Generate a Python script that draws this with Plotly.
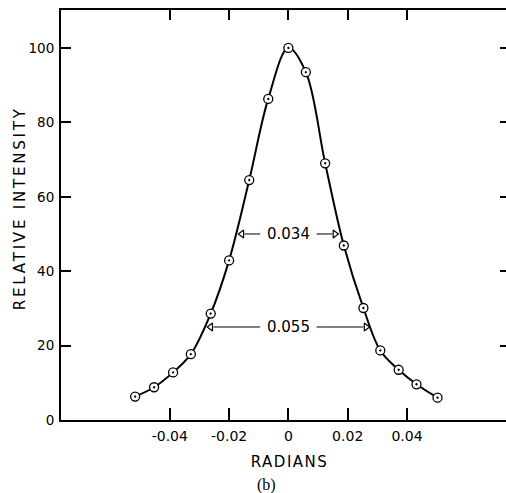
import plotly.graph_objects as go

# ---- data ----
radians = [-0.0517, -0.0453, -0.0389, -0.0329, -0.0262, -0.0200, -0.0132, -0.0068,
           0.0000, 0.0059, 0.0124, 0.0187, 0.0253, 0.0310, 0.0372, 0.0432, 0.0503]
intensity = [6.3, 8.8, 12.8, 17.7, 28.6, 42.9, 64.5, 86.3,
             100.0, 93.5, 69.0, 46.9, 30.1, 18.7, 13.5, 9.6, 6.0]

x_tickvals = [-0.04, -0.02, 0, 0.02, 0.04]
x_ticktext = ["-0.04", "-0.02", "0", "0.02", "0.04"]
y_tickvals = [0, 20, 40, 60, 80, 100]
y_ticktext = ["0", "20", "40", "60", "80", "100"]

# width markers: (full width, level, label)
widths = [0.034, 0.055]
levels = [50, 25]
width_labels = ["0.034", "0.055"]

XR = [-0.0767, 0.0734]
YR = [0, 110.2]
FONT = "DejaVu Sans"

fig = go.Figure()

# curve + points
fig.add_trace(go.Scatter(
    x=radians, y=intensity, mode="lines",
    line=dict(color="black", width=2, shape="spline", smoothing=1.0),
    hoverinfo="skip", showlegend=False))
fig.add_trace(go.Scatter(
    x=radians, y=intensity, mode="markers",
    marker=dict(symbol="circle-dot", size=9, color="white",
                line=dict(color="black", width=1.3)),
    hoverinfo="skip", showlegend=False))

# width arrows
gap = 0.0095
tip_off = 0.0022
for w, lvl, lab in zip(widths, levels, width_labels):
    half = w / 2
    for sgn in (-1, 1):
        fig.add_trace(go.Scatter(
            x=[sgn * gap, sgn * (half - tip_off)], y=[lvl, lvl], mode="lines",
            line=dict(color="black", width=1), hoverinfo="skip", showlegend=False))
        fig.add_trace(go.Scatter(
            x=[sgn * (half - 0.0013)], y=[lvl], mode="markers",
            marker=dict(symbol="triangle-right-open" if sgn > 0 else "triangle-left-open",
                        size=7, color="black", line=dict(color="black", width=1.2)),
            hoverinfo="skip", showlegend=False))
    fig.add_annotation(x=0, y=lvl, xref="x", yref="y", text=lab, showarrow=False,
                       font=dict(family=FONT, size=15, color="black"),
                       xanchor="center", yanchor="middle")

# invisible trace for overlay axes (top / right ticks)
fig.add_trace(go.Scatter(x=radians, y=intensity, xaxis="x2", yaxis="y2",
                         mode="markers", marker=dict(opacity=0), hoverinfo="skip",
                         showlegend=False))

axis_common = dict(showgrid=False, zeroline=False, ticks="inside",
                   tickcolor="black", tickwidth=1.5)

fig.update_layout(
    width=506, height=493,
    margin=dict(l=61, r=0, t=10, b=73),
    paper_bgcolor="white", plot_bgcolor="white",
    xaxis=dict(range=XR, tickvals=x_tickvals, ticktext=x_ticktext, ticklen=12,
               showline=True, linecolor="black", linewidth=2,
               tickfont=dict(family=FONT, size=14, color="black"),
               ticklabelstandoff=2, **axis_common),
    yaxis=dict(range=YR, tickvals=y_tickvals, ticktext=y_ticktext, ticklen=10,
               showline=True, linecolor="black", linewidth=2,
               tickfont=dict(family=FONT, size=13.5, color="black"),
               ticklabelstandoff=2, **axis_common),
    xaxis2=dict(range=XR, overlaying="x", side="top", anchor="y2", tickvals=x_tickvals,
                ticklen=10, showticklabels=False, showline=True, linecolor="black",
                linewidth=2, **axis_common),
    yaxis2=dict(range=YR, overlaying="y", side="right", anchor="x2", tickvals=y_tickvals,
                ticklen=6, showticklabels=False, showline=False, **axis_common),
    annotations=list(fig.layout.annotations) + [
        dict(text="RELATIVE INTENSITY", x=-0.0921, y=0.517, xref="paper", yref="paper",
             textangle=-90, showarrow=False, xanchor="center", yanchor="middle",
             font=dict(family=FONT, size=15, color="black")),
        dict(text="RADIANS", x=0.5135, y=-0.1017, xref="paper", yref="paper",
             showarrow=False, xanchor="center", yanchor="middle",
             font=dict(family=FONT, size=15, color="black")),
        dict(text="(b)", x=0.4622, y=-0.1585, xref="paper", yref="paper",
             showarrow=False, xanchor="center", yanchor="middle",
             font=dict(family="Liberation Serif", size=16, color="black")),
    ],
)

post = """
var gd = document.getElementById('{plot_id}');
function spacing(){
  gd.querySelectorAll('text').forEach(function(t){
    var s = t.textContent;
    if (s === 'RELATIVE INTENSITY') { t.style.letterSpacing = '2.8px'; }
    if (s === 'RADIANS') { t.style.letterSpacing = '1.5px'; }
  });
}
spacing();
gd.on('plotly_afterplot', spacing);
"""

fig.write_html("out.html", config={"displayModeBar": False}, post_script=post)
